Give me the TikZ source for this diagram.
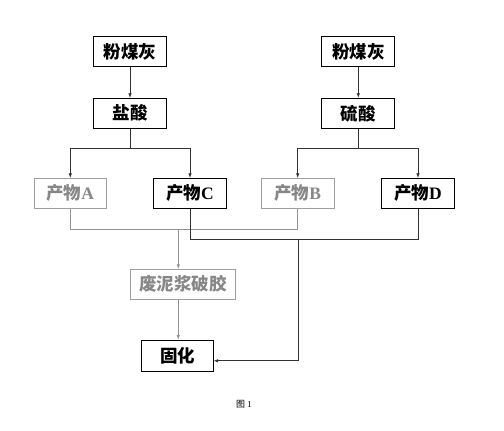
\documentclass[tikz,border=0pt]{standalone}
\usepackage{fontspec}
\setmainfont{Liberation Serif}
\newfontfamily\cjk{Noto Sans CJK SC}
\usetikzlibrary{arrows.meta}
\definecolor{lgray}{RGB}{135,135,135}
\definecolor{dline}{RGB}{50,50,50}
\tikzset{
  box/.style={draw=black, line width=0.9pt, minimum height=30pt, inner sep=1pt, font=\fontsize{17.5}{17.5}\selectfont\bfseries},
  graybox/.style={box, draw=lgray!80, line width=0.7pt, text=lgray},
  link/.style={draw=dline, line width=0.7pt},
  graylink/.style={draw=lgray!90, line width=0.7pt},
  >={Latex[length=4.5pt,width=3.5pt]}
}
\begin{document}
\begin{tikzpicture}[x=1pt,y=-1pt]
\useasboundingbox (0,0) rectangle (504,431);
\node[box, minimum width=73pt] (fa1) at (130,51.5) {\cjk 粉煤灰};
\node[box, minimum width=73pt] (fa2) at (358.3,51.5) {\cjk 粉煤灰};
\node[box, minimum width=73pt] (hcl) at (130,113.3) {\cjk 盐酸};
\node[box, minimum width=73pt] (hso) at (358.3,113.3) {\cjk 硫酸};

\node[graybox, minimum width=72.5pt] (pA) at (70.3,193.3) {{\cjk 产物}A};
\node[box, minimum width=73pt] (pC) at (190,193.3) {{\cjk 产物}C};
\node[graybox, minimum width=73pt] (pB) at (297.7,193.3) {{\cjk 产物}B};
\node[box, minimum width=72.5pt] (pD) at (418,193.3) {{\cjk 产物}D};

\node[graybox, minimum width=105.5pt] (waste) at (182.8,284.3) {\cjk 废泥浆破胶};
\node[box, minimum width=71.5pt, minimum height=31.5pt] (gh) at (177.5,355.8) {\cjk 固化};
\node (cap) at (244,404) {\fontsize{9}{9}\selectfont{\cjk 图} 1};

\coordinate (j1) at (178.3,229);
\coordinate (j2) at (298.3,239);

\draw[link,->] (fa1) -- (hcl);
\draw[link,->] (fa2) -- (hso);
\draw[link,->] (hcl.south) -- ++(0,19.4) -| (pA);
\draw[link,->] (hcl.south) -- ++(0,19.4) -| (pC);
\draw[link,->] (hso.south) -- ++(0,19.4) -| (pB);
\draw[link,->] (hso.south) -- ++(0,19.4) -| (pD);

\draw[graylink] (pA.south) |- (pB.south |- j1) -- (pB.south);
\draw[graylink,->] (j1) -- (j1 |- waste.north);
\draw[graylink,->] (waste.south -| j1) -- (j1 |- gh.north);
\draw[link] (pC.south) |- (pD.south |- j2) -- (pD.south);
\draw[link,->] (j2) |- ([yshift=-5pt]gh.east);
\end{tikzpicture}
\end{document}
